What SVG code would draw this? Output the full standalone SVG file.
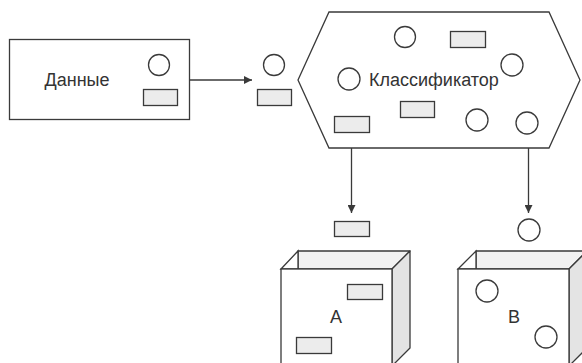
<svg xmlns="http://www.w3.org/2000/svg" width="582" height="363" viewBox="0 0 582 363">
  <defs>
    <marker id="arrow" viewBox="0 0 10 10" refX="10" refY="5" markerWidth="10" markerHeight="8" markerUnits="userSpaceOnUse" orient="auto">
      <path d="M0,0 L10,5 L0,10 Z" fill="#3a3a3a"/>
    </marker>
  </defs>
  <style>
    .box { fill: #ffffff; stroke: #3a3a3a; stroke-width: 1.3; }
    .item { fill: #ececec; stroke: #3a3a3a; stroke-width: 1.3; }
    .ball { fill: #ffffff; stroke: #3a3a3a; stroke-width: 1.3; }
    .shade { fill: #e4e4e4; stroke: #3a3a3a; stroke-width: 1.3; stroke-linejoin: round; }
    .inner { fill: #f2f2f2; stroke: #3a3a3a; stroke-width: 1.3; stroke-linejoin: round; }
    .link { fill: none; stroke: #3a3a3a; stroke-width: 1.3; }
    .label { font-family: "Liberation Sans", Arial, sans-serif; font-size: 18px; fill: #333333; }
  </style>
  <rect width="582" height="363" fill="#ffffff"/>

  <!-- input data -->
  <g id="data">
    <rect class="box" x="9.5" y="39.5" width="180" height="80"/>
    <text class="label" x="77" y="86" text-anchor="middle">Данные</text>
    <circle class="ball" cx="159" cy="65" r="10.5"/>
    <rect class="item" x="143.5" y="89.5" width="34" height="16"/>
  </g>

  <!-- items in transit -->
  <g id="incoming">
    <circle class="ball" cx="274" cy="65" r="10.5"/>
    <rect class="item" x="257.5" y="89.5" width="34" height="16"/>
  </g>

  <!-- classifier -->
  <g id="classifier">
    <polygon class="box" points="329,12 549,12 580,80 549,148 329,148 298,80"/>
    <circle class="ball" cx="405" cy="37" r="10.5"/>
    <rect class="item" x="450.5" y="31.5" width="35" height="16"/>
    <circle class="ball" cx="512" cy="65" r="11"/>
    <circle class="ball" cx="349" cy="79" r="11"/>
    <text class="label" x="369" y="86">Классификатор</text>
    <rect class="item" x="400.5" y="101.5" width="34" height="16"/>
    <rect class="item" x="334.5" y="116.5" width="35" height="16"/>
    <circle class="ball" cx="477" cy="120" r="11"/>
    <circle class="ball" cx="527" cy="123" r="11"/>
  </g>

  <!-- connectors -->
  <g id="connectors">
    <line class="link" x1="189.5" y1="80" x2="252" y2="80" marker-end="url(#arrow)"/>
    <line class="link" x1="351.5" y1="148" x2="351.5" y2="213" marker-end="url(#arrow)"/>
    <line class="link" x1="528.5" y1="148" x2="528.5" y2="213" marker-end="url(#arrow)"/>
  </g>

  <!-- sorted items -->
  <g id="outgoing">
    <rect class="item" x="334.5" y="221.5" width="35" height="15"/>
    <circle class="ball" cx="529" cy="230" r="11"/>
  </g>

  <!-- bin A -->
  <g id="binA">
    <polygon class="inner" points="298,251 410,251 392,269 298,269"/>
    <polygon class="box" points="281,269 298,251 298,269"/>
    <polygon class="shade" points="392,269 410,251 410,348 392,366"/>
    <rect class="box" x="281" y="269" width="111" height="100"/>
    <rect class="item" x="347.5" y="284.5" width="35" height="15"/>
    <text class="label" x="336" y="323" text-anchor="middle">A</text>
    <rect class="item" x="296.5" y="337.5" width="35" height="16"/>
  </g>

  <!-- bin B -->
  <g id="binB">
    <polygon class="inner" points="476,251 587,251 569,269 476,269"/>
    <polygon class="box" points="458,269 476,251 476,269"/>
    <polygon class="shade" points="569,269 587,251 587,348 569,366"/>
    <rect class="box" x="458" y="269" width="111" height="100"/>
    <circle class="ball" cx="487" cy="291" r="11"/>
    <text class="label" x="514" y="323" text-anchor="middle">B</text>
    <circle class="ball" cx="546" cy="337" r="11"/>
  </g>
</svg>
